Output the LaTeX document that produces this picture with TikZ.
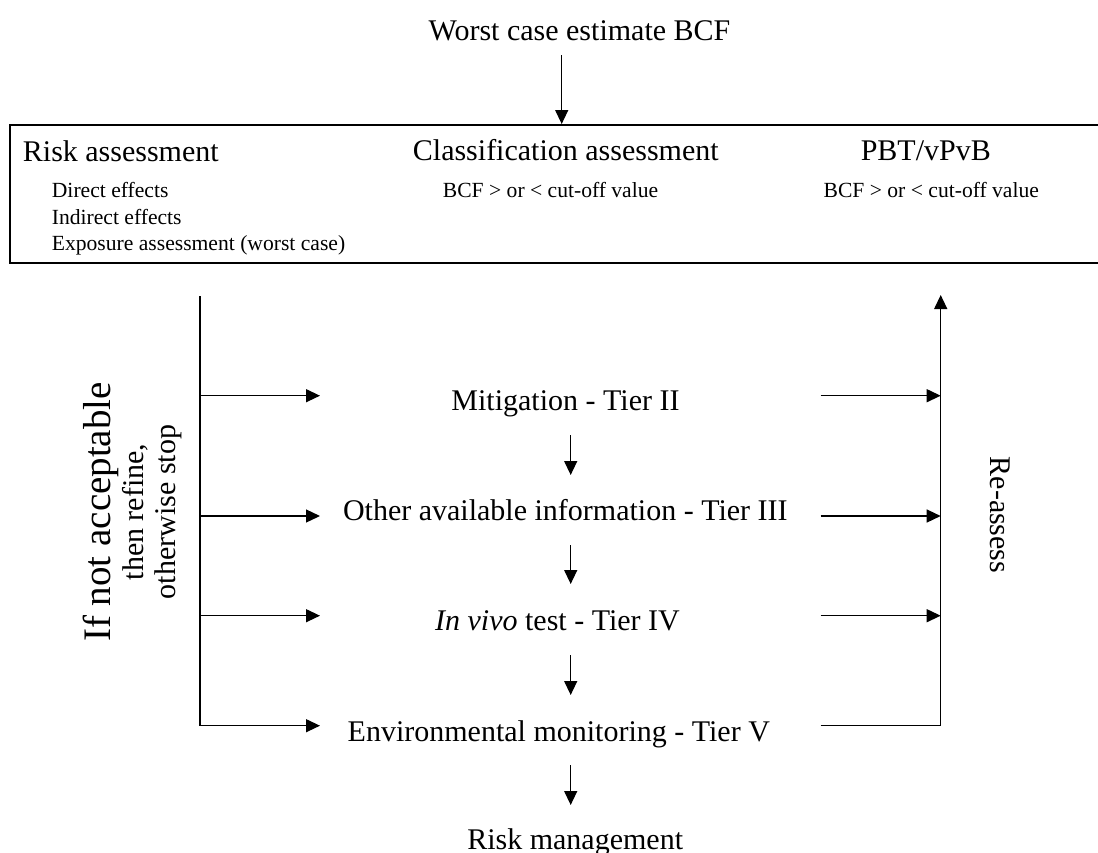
\documentclass[tikz,border=0pt]{standalone}
\usepackage{fontspec}
\setmainfont{Liberation Serif}
\usetikzlibrary{arrows.meta}
\begin{document}
\begin{tikzpicture}[x=1pt,y=-1pt,
  big/.style={font=\fontsize{30}{33}\selectfont, inner sep=0pt},
  bigger/.style={font=\fontsize{39}{43}\selectfont, inner sep=0pt},
  small/.style={font=\fontsize{21.6}{26}\selectfont, inner sep=0pt},
  arr/.style={line width=1.3pt, -{Triangle[length=14pt,width=13pt]}},
  ln/.style={line width=1.3pt}]
\useasboundingbox (0,0) rectangle (1098,852);

% texts
\node[big, anchor=base] (title) at (579.5,40) {Worst case estimate BCF};
\node[big, anchor=base west] (risk) at (22.7,161.7) {Risk assessment};
\node[big, anchor=base west] (class) at (412.7,160.7) {Classification assessment};
\node[big, anchor=base] (pbt) at (925.8,160.7) {PBT/vPvB};
\node[small, anchor=base west] (d1) at (51.7,197.3) {Direct effects};
\node[small, anchor=base west] (d2) at (51.7,224.3) {Indirect effects};
\node[small, anchor=base west] (d3) at (51.7,250.7) {Exposure assessment (worst case)};
\node[small, anchor=base west] (bcf1) at (442.7,197.3) {BCF > or < cut-off value};
\node[small, anchor=base] (bcf2) at (931.3,197.3) {BCF > or < cut-off value};

\node[big, anchor=base] (mit) at (565.5,410) {Mitigation - Tier II};
\node[big, anchor=base] (other) at (565.3,520.7) {Other available information - Tier III};
\node[big, anchor=base] (invivo) at (557.5,630.7) {\textit{In vivo} test - Tier IV};
\node[big, anchor=base] (env) at (558.8,741) {Environmental monitoring - Tier V};
\node[big, anchor=base] (rm) at (575.2,849) {Risk management};

\node[bigger, rotate=90, anchor=base] (refine1) at (110,512) {If not acceptable};
\node[big, rotate=90, anchor=base] (refine2) at (143,512) {then refine,};
\node[big, rotate=90, anchor=base] (refine3) at (175,512) {otherwise stop};
\node[big, rotate=-90] (reassess) at (1000,515) {Re-assess};

% box
\coordinate (boxtl) at (10,125);
\coordinate (boxbr) at (1100,263);
\draw[ln] (boxtl) rectangle (boxbr);

% coordinates
\coordinate (t0) at (561.7,55);
\coordinate (t1) at (561.7,124);
\coordinate (m0) at (570.7,435);
\coordinate (m1) at (570.7,475);
\coordinate (o0) at (570.7,545);
\coordinate (o1) at (570.7,584);
\coordinate (v0) at (570.7,655);
\coordinate (v1) at (570.7,695);
\coordinate (e0) at (570.7,765);
\coordinate (e1) at (570.7,805);

\coordinate (ltop) at (200,296);
\coordinate (L1) at (200,395.7);
\coordinate (L2) at (200,516);
\coordinate (L3) at (200,615.7);
\coordinate (L4) at (200,725.7);
\coordinate (A1) at (320,395.7);
\coordinate (A2) at (320,516);
\coordinate (A3) at (320,615.7);
\coordinate (A4) at (320,725.7);

\coordinate (R1) at (820.7,395.7);
\coordinate (R2) at (820.7,516);
\coordinate (R3) at (820.7,615.7);
\coordinate (R4) at (820.7,725.7);
\coordinate (B1) at (940.7,395.7);
\coordinate (B2) at (940.7,516);
\coordinate (B3) at (940.7,615.7);
\coordinate (B4) at (940.7,725.7);
\coordinate (rtop) at (940.7,295);

% arrows
\draw[arr] (t0) -- (t1);
\draw[arr] (m0) -- (m1);
\draw[arr] (o0) -- (o1);
\draw[arr] (v0) -- (v1);
\draw[arr] (e0) -- (e1);

\draw[ln] (ltop) -- (L4);
\draw[arr] (L1) -- (A1);
\draw[arr] (L2) -- (A2);
\draw[arr] (L3) -- (A3);
\draw[arr] (L4) -- (A4);

\draw[arr] (R1) -- (B1);
\draw[arr] (R2) -- (B2);
\draw[arr] (R3) -- (B3);
\draw[ln] (R4) -- (B4);
\draw[arr] (B4) -- (rtop);
\end{tikzpicture}
\end{document}
